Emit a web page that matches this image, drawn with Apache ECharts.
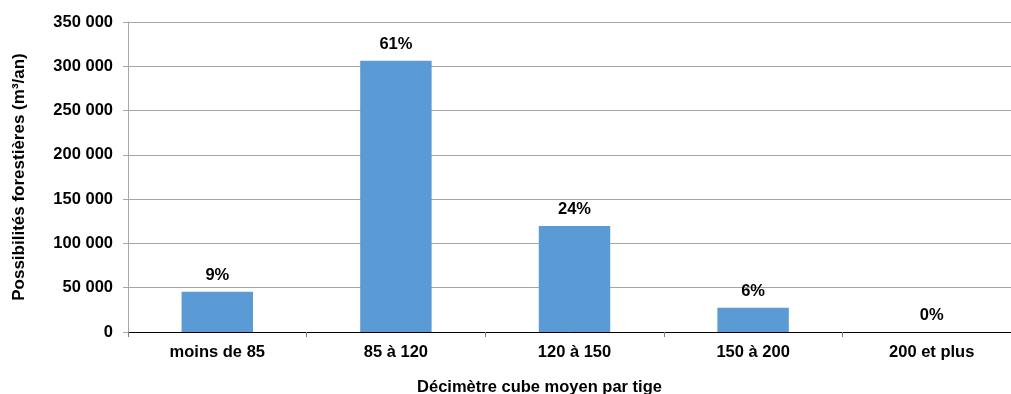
<!DOCTYPE html>
<html>
<head>
<meta charset="utf-8">
<script src="https://cdn.jsdelivr.net/npm/echarts@6/dist/echarts.min.js"></script>
<style>
  html, body { margin: 0; padding: 0; background: #ffffff; }
  #chart { width: 1011px; height: 394px; }
</style>
</head>
<body>
<div id="chart"></div>
<script>
// Classes de volume moyen par tige (dm³)
const categories = ['moins de 85', '85 à 120', '120 à 150', '150 à 200', '200 et plus'];
// Possibilités forestières (m³/an) par classe
const volumes = [45500, 306300, 119700, 27400, 0];
// Part de chaque classe dans le total
const shares = ['9%', '61%', '24%', '6%', '0%'];
// Graduations de l'axe vertical
const yMin = 0;
const yMax = 350000;
const yStep = 50000;

const FONT = '"Liberation Sans", Arial, sans-serif';
const FS = 16.5;

function formatThousands(v) {
  return String(v).replace(/\B(?=(\d{3})+(?!\d))/g, ' ');
}

const chart = echarts.init(document.getElementById('chart'), null, { renderer: 'canvas' });

chart.setOption({
  animation: false,
  backgroundColor: '#ffffff',
  textStyle: { fontFamily: FONT },
  grid: { left: 128, top: 22, width: 893, height: 310, containLabel: false, outerBoundsMode: 'none' },
  xAxis: {
    type: 'category',
    data: categories,
    name: 'Décimètre cube moyen par tige',
    nameLocation: 'middle',
    nameGap: 47,
    nameTextStyle: { fontFamily: FONT, fontWeight: 'bold', fontSize: FS, color: '#000', padding: [0, 70, 0, 0] },
    axisLine: { lineStyle: { color: '#000000', width: 1 } },
    axisTick: { show: true, alignWithLabel: false, length: 5, lineStyle: { color: '#7f7f7f' } },
    axisLabel: { fontFamily: FONT, fontWeight: 'bold', fontSize: FS, color: '#000', margin: 12 },
    splitLine: { show: false }
  },
  yAxis: {
    type: 'value',
    min: yMin,
    max: yMax,
    interval: yStep,
    name: 'Possibilités forestières (m³/an)',
    nameLocation: 'middle',
    nameGap: 100,
    nameRotate: 90,
    nameTextStyle: { fontFamily: FONT, fontWeight: 'bold', fontSize: 17, color: '#000' },
    axisLine: { show: true, lineStyle: { color: '#a6a6a6', width: 1 } },
    axisTick: { show: true, length: 5, lineStyle: { color: '#a6a6a6' } },
    axisLabel: { fontFamily: FONT, fontWeight: 'bold', fontSize: FS, color: '#000', margin: 15, formatter: formatThousands },
    splitLine: { show: true, lineStyle: { color: '#a6a6a6', width: 1 } }
  },
  series: [{
    type: 'bar',
    data: volumes,
    barWidth: '40%',
    itemStyle: { color: '#5b9bd5' },
    label: {
      show: true,
      position: 'top',
      distance: 8,
      fontFamily: FONT,
      fontWeight: 'bold',
      fontSize: FS,
      color: '#000',
      formatter: p => shares[p.dataIndex]
    }
  }]
});
</script>
</body>
</html>
